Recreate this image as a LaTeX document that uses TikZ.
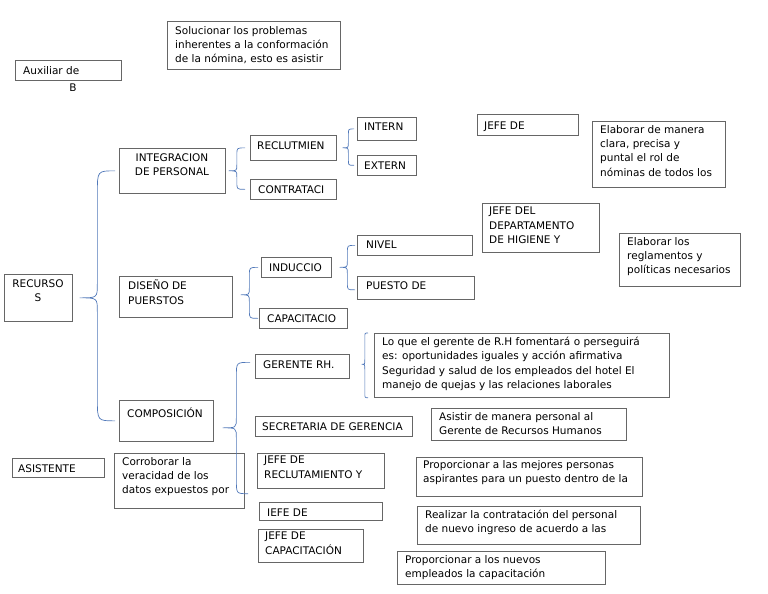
\documentclass[tikz,border=0pt]{standalone}
\usepackage{fontspec}
\setmainfont{DejaVu Sans}
\usetikzlibrary{calc}
\definecolor{azulllave}{RGB}{80,120,185}

% curly brace: tip, top end, bottom end, end radius, tip radius
\newcommand{\llave}[5]{%
  \draw[llave] let \p1=(#1), \p2=(#2), \p3=(#3), \p4=($(#1)!0.5!(#2)$) in
    (\p2) .. controls (\x4,\y2) .. (\x4,\y2-#4) -- (\x4,\y1+#5)
    .. controls (\x4,\y1) .. (\p1) .. controls (\x4,\y1) .. (\x4,\y1-#5)
    -- (\x4,\y3+#4) .. controls (\x4,\y3) .. (\p3);}

\begin{document}
\begin{tikzpicture}[x=1pt, y=-1pt,
    caja/.style={draw=black!60, line width=0.7pt, anchor=north west, inner sep=0pt},
    texto/.style={anchor=north west, align=left, inner sep=0pt, yshift=6pt,
      font=\fontsize{10.5}{14.3}\selectfont, execute at begin node=\strut},
    centro/.style={anchor=center, align=center, inner sep=0pt,
      font=\fontsize{10.5}{14.3}\selectfont},
    llave/.style={draw=azulllave, line width=0.7pt}]
\useasboundingbox (0,0) rectangle (768,594);

% Top
\node[caja, minimum width=106pt, minimum height=20pt] (aux) at (15,60) {};
\node[texto] (aux-t) at (23,70) {Auxiliar de};
\node[centro] (aux-b) at (73,88) {B};
\node[caja, minimum width=173pt, minimum height=48pt] (sol) at (167,21) {};
\node[texto] (sol-t) at (175,32) {Solucionar los problemas\\inherentes a la conformación\\de la nómina, esto es asistir};

% Root
\node[caja, minimum width=68pt, minimum height=47pt] (recursos) at (4,274) {};
\node[centro] (recursos-t) at (38,291) {RECURSO\\S};

% Integracion
\node[caja, minimum width=106pt, minimum height=45pt] (integ) at (119,148) {};
\node[centro] (integ-t) at (172,165) {INTEGRACION\\DE PERSONAL};
\node[caja, minimum width=86pt, minimum height=25pt] (recl) at (250,135) {};
\node[texto] (recl-t) at (257,145) {RECLUTMIEN};
\node[caja, minimum width=86pt, minimum height=20pt] (contr) at (250,179) {};
\node[texto] (contr-t) at (258,189) {CONTRATACI};
\node[caja, minimum width=59pt, minimum height=23pt] (intern) at (357,117) {};
\node[texto] (intern-t) at (364,126) {INTERN};
\node[caja, minimum width=59pt, minimum height=20pt] (extern) at (357,155) {};
\node[texto] (extern-t) at (364,165) {EXTERN};

% Jefes (right)
\node[caja, minimum width=101pt, minimum height=21pt] (jefede) at (477,114) {};
\node[texto] (jefede-t) at (484,125) {JEFE DE};
\node[caja, minimum width=133pt, minimum height=66pt] (elab1) at (592,121) {};
\node[texto] (elab1-t) at (600,131) {Elaborar de manera\\clara, precisa y\\puntal el rol de\\nóminas de todos los};
\node[caja, minimum width=117pt, minimum height=49pt] (jefehig) at (482,203) {};
\node[texto] (jefehig-t) at (489,213) {JEFE DEL\\DEPARTAMENTO\\DE HIGIENE Y};
\node[caja, minimum width=121pt, minimum height=53pt] (elab2) at (619,233) {};
\node[texto] (elab2-t) at (627,243) {Elaborar los\\reglamentos y\\políticas necesarios};

% Diseno
\node[caja, minimum width=113pt, minimum height=41pt] (diseno) at (119,276) {};
\node[texto] (diseno-t) at (128,286) {DISEÑO DE\\PUERSTOS};
\node[caja, minimum width=70pt, minimum height=20pt] (induccio) at (261,257) {};
\node[texto] (induccio-t) at (269,267) {INDUCCIO};
\node[caja, minimum width=88pt, minimum height=20pt] (capac) at (259,308) {};
\node[texto] (capac-t) at (267,318) {CAPACITACIO};
\node[caja, minimum width=115pt, minimum height=20pt] (nivel) at (357,235) {};
\node[texto] (nivel-t) at (366,244) {NIVEL};
\node[caja, minimum width=117pt, minimum height=23pt] (puesto) at (357,276) {};
\node[texto] (puesto-t) at (366,285) {PUESTO DE};

% Composicion
\node[caja, minimum width=94pt, minimum height=41pt] (comp) at (119,400) {};
\node[texto] (comp-t) at (127,413) {COMPOSICIÓN};
\node[caja, minimum width=94pt, minimum height=24pt] (gerente) at (255,354) {};
\node[texto] (gerente-t) at (263,364) {GERENTE RH.};
\node[caja, minimum width=295pt, minimum height=64pt] (loque) at (374,333) {};
\node[texto] (loque-t) at (382,343) {Lo que el gerente de R.H fomentará o perseguirá\\es: oportunidades iguales y acción afirmativa\\Seguridad y salud de los empleados del hotel El\\manejo de quejas y las relaciones laborales};
\node[caja, minimum width=157pt, minimum height=20pt] (secre) at (255,416) {};
\node[texto] (secre-t) at (262,426) {SECRETARIA DE GERENCIA};
\node[caja, minimum width=195pt, minimum height=32pt] (asistir) at (431,408) {};
\node[texto] (asistir-t) at (439,418) {Asistir de manera personal al\\Gerente de Recursos Humanos};
\node[caja, minimum width=92pt, minimum height=19pt] (asist) at (12,458) {};
\node[texto] (asist-t) at (18,468) {ASISTENTE};
\node[caja, minimum width=130pt, minimum height=55pt] (corrob) at (114,453) {};
\node[texto] (corrob-t) at (122,463) {Corroborar la\\veracidad de los\\datos expuestos por};
\node[caja, minimum width=127pt, minimum height=35pt] (jeferec) at (257,453) {};
\node[texto] (jeferec-t) at (264,462) {JEFE DE\\RECLUTAMIENTO Y};
\node[caja, minimum width=123pt, minimum height=18pt] (iefe) at (259,502) {};
\node[texto] (iefe-t) at (267,512) {IEFE DE};
\node[caja, minimum width=105pt, minimum height=33pt] (jefecap) at (258,529) {};
\node[texto] (jefecap-t) at (265,538) {JEFE DE\\CAPACITACIÓN};
\node[caja, minimum width=226pt, minimum height=39pt] (prop1) at (416,457) {};
\node[texto] (prop1-t) at (423,466) {Proporcionar a las mejores personas\\aspirantes para un puesto dentro de la};
\node[caja, minimum width=223pt, minimum height=38pt] (realiz) at (417,506) {};
\node[texto] (realiz-t) at (425,516) {Realizar la contratación del personal\\de nuevo ingreso de acuerdo a las};
\node[caja, minimum width=208pt, minimum height=33pt] (prop2) at (397,551) {};
\node[texto] (prop2-t) at (405,561) {Proporcionar a los nuevos\\empleados la capacitación};

% Braces
\llave{[xshift=7pt]recursos.east}{[xshift=-4pt]integ.west}{[xshift=-4pt]comp.west}{22pt}{14pt}
\llave{[xshift=3pt]integ.east}{[xshift=-5pt]recl.west}{[xshift=-5pt]contr.west}{7pt}{6pt}
\llave{[xshift=6pt]recl.east}{[xshift=-3pt]intern.west}{[xshift=-3pt]extern.west}{6pt}{5pt}
\llave{[xshift=8pt,yshift=2pt]diseno.east}{[xshift=-3pt]induccio.west}{[xshift=-1pt]capac.west}{8pt}{7pt}
\llave{[xshift=8pt]induccio.east}{[xshift=-2pt]nivel.west}{[xshift=-2pt,yshift=-2pt]puesto.west}{7pt}{6pt}
\llave{[xshift=12pt,yshift=2pt]gerente.east}{[xshift=-6pt]loque.north west}{[xshift=-6pt]loque.south west}{4pt}{5pt}
\llave{[xshift=9pt,yshift=-7pt]comp.east}{[xshift=-5pt,yshift=4pt]gerente.west}{[xshift=-9pt,yshift=-5pt]jeferec.south west}{14pt}{10pt}
\end{tikzpicture}
\end{document}
